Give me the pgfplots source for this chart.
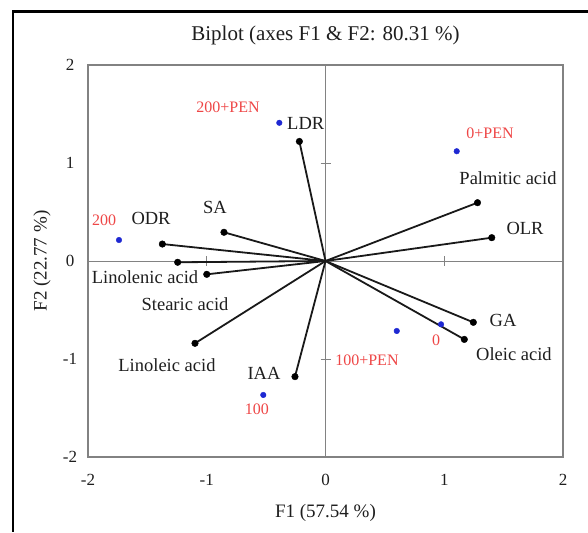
\documentclass[border=0pt]{standalone}
\usepackage{fontspec}
\setmainfont{Liberation Serif}
\usepackage{pgfplots}
\usepackage{pgfplotstable}
\pgfplotsset{compat=1.18}
\definecolor{lblred}{RGB}{238,70,70}
\definecolor{ptblue}{RGB}{30,40,210}
\definecolor{txt}{RGB}{30,30,30}
\definecolor{frame}{RGB}{130,130,130}

\pgfplotstableread{
name x y
LDR -0.22 1.22
Palmitic 1.28 0.595
OLR 1.40 0.238
SA -0.855 0.293
ODR -1.374 0.173
Linolenic -1.245 -0.013
Stearic -1.0 -0.136
Linoleic -1.099 -0.84
IAA -0.257 -1.18
GA 1.245 -0.626
Oleic 1.169 -0.80
}\vectors

\pgfplotstableread{
name x y
200PEN -0.389 1.41
0PEN 1.105 1.12
200 -1.739 0.214
100 -0.524 -1.367
100PEN 0.60 -0.714
0 0.973 -0.646
}\obs

\begin{document}
\begin{tikzpicture}
\path[use as bounding box] (-88pt,-75pt) rectangle (500pt,457pt);
\begin{axis}[
  scale only axis, width=475pt, height=392pt,
  at={(0pt,0pt)}, anchor=south west,
  xmin=-2, xmax=2, ymin=-2, ymax=2,
  clip=false,
  axis line style={draw=frame, line width=2pt},
  xtick={-2,-1,0,1,2}, ytick={-2,-1,0,1,2},
  xticklabels={-2,-1,0,1,2}, yticklabels={-2,-1,0,1,2},
  major tick length=0pt,
  tick label style={font=\fontsize{17}{20}\selectfont, text=txt},
  xticklabel style={anchor=center, yshift=-23pt},
  yticklabel style={anchor=center, xshift=-18pt},
]
\draw[frame, line width=0.9pt] (axis cs:0,-2) -- (axis cs:0,2);
\draw[frame, line width=0.9pt] (axis cs:-2,0) -- (axis cs:2,0);
\draw[frame, line width=0.9pt] ([xshift=-5pt]axis cs:0,1) -- ([xshift=5pt]axis cs:0,1);
\draw[frame, line width=0.9pt] ([xshift=-5pt]axis cs:0,-1) -- ([xshift=5pt]axis cs:0,-1);
\draw[frame, line width=0.9pt] ([yshift=-5pt]axis cs:1,0) -- ([yshift=5pt]axis cs:1,0);
\draw[frame, line width=0.9pt] ([yshift=-5pt]axis cs:-1,0) -- ([yshift=5pt]axis cs:-1,0);

\addplot[black!90, line width=1.8pt, quiver={u=\thisrow{x}, v=\thisrow{y}}]
  table[x expr=0, y expr=0] {\vectors};
\addplot[only marks, mark=*, mark size=3.3pt, black] table[x=x, y=y] {\vectors};
\addplot[only marks, mark=*, mark size=2.8pt, ptblue, mark options={draw=ptblue, fill=ptblue}] table[x=x, y=y] {\obs};

\begin{scope}[every node/.style={font=\fontsize{18.5}{20}\selectfont, text=txt, inner sep=0pt}]
\node[anchor=west] at (axis cs:-0.324,1.408) {LDR};
\node at (axis cs:1.537,0.847) {Palmitic acid};
\node at (axis cs:1.68,0.337) {OLR};
\node at (axis cs:-0.931,0.551) {SA};
\node at (axis cs:-1.469,0.439) {ODR};
\node at (axis cs:-1.52,-0.163) {Linolenic acid};
\node at (axis cs:-1.183,-0.439) {Stearic acid};
\node at (axis cs:-1.335,-1.061) {Linoleic acid};
\node at (axis cs:-0.518,-1.143) {IAA};
\node at (axis cs:1.495,-0.602) {GA};
\node at (axis cs:1.587,-0.949) {Oleic acid};
\end{scope}
\begin{scope}[every node/.style={font=\fontsize{16}{18}\selectfont, text=lblred, inner sep=0pt}]
\node at (axis cs:-0.821,1.571) {200+PEN};
\node at (axis cs:1.385,1.306) {0+PEN};
\node at (axis cs:-1.865,0.418) {200};
\node at (axis cs:-0.577,-1.51) {100};
\node at (axis cs:0.349,-1.01) {100+PEN};
\node at (axis cs:0.931,-0.806) {0};
\end{scope}

\node[font=\fontsize{21}{24}\selectfont, text=txt] at ([yshift=30pt]rel axis cs:0.5,1) {Biplot (axes F1 \& F2: 80.31 \%)};
\node[font=\fontsize{19}{22}\selectfont, text=txt] at ([yshift=-56pt]rel axis cs:0.5,0) {F1 (57.54 \%)};
\node[font=\fontsize{19}{22}\selectfont, text=txt, rotate=90] at ([xshift=-46pt]rel axis cs:0,0.5) {F2 (22.77 \%)};
\end{axis}
\fill[black] (-76.2pt,-75pt) rectangle (-73.8pt,446.5pt);
\fill[black] (-76.2pt,444pt) rectangle (500pt,446.5pt);
\end{tikzpicture}
\end{document}
